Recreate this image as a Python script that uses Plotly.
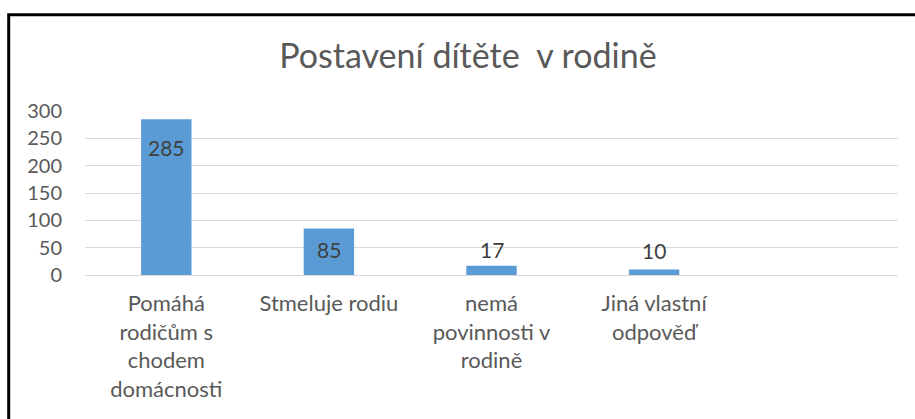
import plotly.graph_objects as go

categories = ["Pomáhá<br>rodičům s<br>chodem<br>domácnosti", "Stmeluje rodiu",
              "nemá<br>povinnosti v<br>rodině", "Jiná vlastní<br>odpověď"]
values = [285, 85, 17, 10]
y_ticks = [0, 50, 100, 150, 200, 250, 300]
title_text = "Postavení dítěte  v rodině"
label_shift = [-28, -21, 16, 19]   # label offset from bar top, in px (style)

W, H = 915, 419
L, R, T, B = 85, 17, 111, 144
pw, ph = W - L - R, H - T - B

def px_x(x):
    return (x - L) / pw

def px_y(y):
    return (H - B - y) / ph

FONT = "Lato"
fig = go.Figure(go.Bar(
    x=categories, y=values,
    marker=dict(color="#5B9BD5", line=dict(width=0)),
    cliponaxis=False, hoverinfo="skip",
))

annotations = [dict(x=c, y=v, xref="x", yref="y", text=str(v), showarrow=False,
                    yanchor="middle", xanchor="center", yshift=s,
                    font=dict(family=FONT, size=21, color="#404040"))
               for c, v, s in zip(categories, values, label_shift)]

fig.update_layout(
    width=W, height=H, margin=dict(l=L, r=R, t=T, b=B, autoexpand=False),
    paper_bgcolor="white", plot_bgcolor="white",
    bargap=0.69, showlegend=False,
    font=dict(family=FONT, color="#595959", size=20),
    title=dict(text=title_text, x=468 / W, xanchor="center",
               y=1 - 56 / H, yanchor="middle", yref="container",
               font=dict(family=FONT, size=34, color="#595959")),
    xaxis=dict(type="category", range=[-0.5, 4.5], showgrid=False, showline=False,
               zeroline=False, ticks="", tickfont=dict(size=22, color="#595959"),
               ticklabelstandoff=13),
    yaxis=dict(range=[0, 300], tickvals=y_ticks, showgrid=True, gridcolor="#D9D9D9",
               gridwidth=1, zeroline=True, zerolinecolor="#D9D9D9", zerolinewidth=1,
               showline=False, ticks="", tickfont=dict(size=20, color="#595959"),
               ticklabelstandoff=22),
    annotations=annotations,
    shapes=[dict(type="rect", xref="paper", yref="paper",
                 x0=px_x(8.7), x1=px_x(925), y0=px_y(430), y1=px_y(14.7),
                 line=dict(color="black", width=3), layer="above")],
)

fig.write_html("out.html", config={"displayModeBar": False},
               post_script="document.body.style.margin='0';document.body.style.overflow='hidden';")
